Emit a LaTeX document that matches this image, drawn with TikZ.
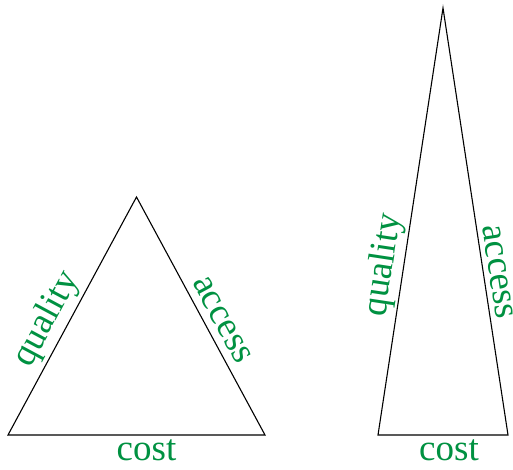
\documentclass[tikz,border=0pt]{standalone}
\usepackage{fontspec}
\setmainfont{Liberation Serif}
\definecolor{lblgreen}{RGB}{0,145,65}
\begin{document}
\begin{tikzpicture}[x=1pt,y=1pt,
  edge/.style={draw=black,line width=1.1pt,line join=miter},
  lbl/.style={text=lblgreen,font=\fontsize{37}{42}\selectfont,inner sep=0pt}]
\useasboundingbox (0,0) rectangle (513,470);
% left triangle
\coordinate (L1) at (8,35);
\coordinate (L2) at (265,35);
\coordinate (L3) at (136.5,273);
\draw[edge] (L1) -- (L2) -- (L3) -- cycle;
% right triangle
\coordinate (R1) at (378,35);
\coordinate (R2) at (508,35);
\coordinate (R3) at (443,462);
\draw[edge] (R1) -- (R2) -- (R3) -- cycle;
% labels
\node[lbl,rotate=61.8] (ql) at (47,151) {quality};
\node[lbl,rotate=-61.6] (al) at (222,150) {access};
\node[lbl,anchor=base] (cl) at (146.5,9) {cost};
\node[lbl,rotate=81.35] (qr) at (384,205) {quality};
\node[lbl,rotate=-81.35] (ar) at (498,198) {access};
\node[lbl,anchor=base] (cr) at (449,9) {cost};
\end{tikzpicture}
\end{document}
